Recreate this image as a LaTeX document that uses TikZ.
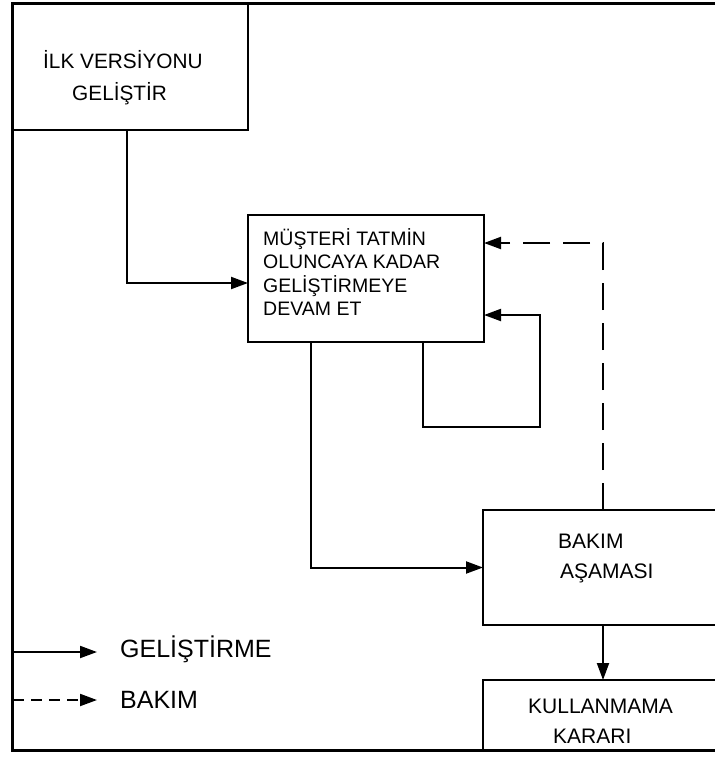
\documentclass[tikz,border=0pt]{standalone}
\usepackage{fontspec}
\setmainfont{Liberation Sans}
\usetikzlibrary{arrows.meta}
\begin{document}
\begin{tikzpicture}[x=1pt,y=-1pt,
  box/.style={draw, line width=2pt, rectangle, inner sep=0pt, outer sep=0pt},
  flow/.style={line width=2pt, -{Triangle[length=17pt,width=12pt]}},
  care/.style={flow, dash pattern=on 27pt off 13pt},
  carekey/.style={flow, dash pattern=on 11pt off 7pt},
  lbl/.style={anchor=base west, inner sep=0pt, font=\fontsize{#1}{#1}\selectfont},
]
\useasboundingbox (0,0) rectangle (715,758);
\clip (0,0) rectangle (715,758);

% outer frame (open on the right)
\draw[line width=3pt] (715,3) -| (12,750) -- (715,750);

% process boxes
\node[box, minimum width=235pt, minimum height=126pt] (b1) at (130.5,67) {};
\node[box, minimum width=236pt, minimum height=127pt] (b2) at (366,278.5) {};
\node[box, minimum width=277pt, minimum height=115pt] (b3) at (621.5,567.5) {};
\node[box, minimum width=277pt, minimum height=70pt]  (b4) at (621.5,715) {};

% box texts
\node[lbl=20.8] (t1a) at (43,68)  {İLK VERSİYONU};
\node[lbl=20.8] (t1b) at (72,100) {GELİŞTİR};
\node[lbl=19.5] (t2a) at (263,245) {MÜŞTERİ TATMİN};
\node[lbl=19.5] (t2b) at (263,268) {OLUNCAYA KADAR};
\node[lbl=19.5] (t2c) at (263,292) {GELİŞTİRMEYE};
\node[lbl=19.5] (t2d) at (263,315) {DEVAM ET};
\node[lbl=21] (t3a) at (558,548) {BAKIM};
\node[lbl=21] (t3b) at (560,578) {AŞAMASI};
\node[lbl=21] (t4a) at (528,713) {KULLANMAMA};
\node[lbl=21] (t4b) at (553,743) {KARARI};

% development flow
\draw[flow] ([xshift=-3.5pt]b1.south) |- ([yshift=-4.5pt]b2.west);
\coordinate (loopcorner) at (540,427);
\draw[flow] ([xshift=57pt]b2.south) |- (loopcorner) |- ([yshift=-36.5pt]b2.east);
\draw[flow] ([xshift=-55pt]b2.south) |- (b3.west);
\draw[flow] ([xshift=-18.5pt]b3.south) -- ([xshift=-18.5pt]b4.north);

% maintenance feedback
\draw[care] ([xshift=-18.5pt]b3.north) |- ([yshift=35.5pt]b2.east);

% legend
\coordinate (ks1) at (13,652);
\coordinate (ke1) at (97,652);
\coordinate (ks2) at (13,700);
\coordinate (ke2) at (97,700);
\draw[flow] (ks1) -- (ke1);
\draw[carekey] (ks2) -- (ke2);
\node[lbl=25] (k1) at (120,657) {GELİŞTİRME};
\node[lbl=25] (k2) at (120,708) {BAKIM};
\end{tikzpicture}
\end{document}
